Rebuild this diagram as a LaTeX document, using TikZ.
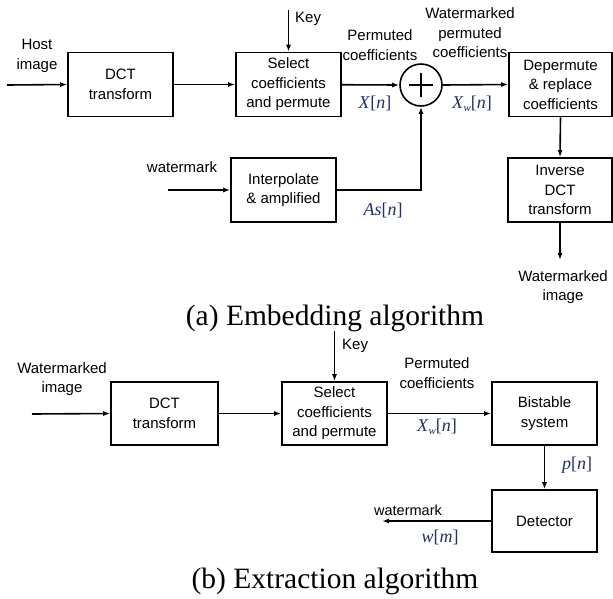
\documentclass[tikz,border=0pt]{standalone}
\usepackage{fontspec}
\setmainfont{Liberation Serif}
\setsansfont{Liberation Sans}
\usetikzlibrary{arrows.meta,calc}
\definecolor{mathc}{RGB}{35,45,115}
\newcommand{\lblfont}{\sffamily\fontsize{15}{19.5}\selectfont}
\newcommand{\mv}[1]{\textit{#1}}
\begin{document}
\begin{tikzpicture}[x=1pt,y=-1pt,
  blk/.style={draw, line width=1.6pt, minimum width=105pt, minimum height=64pt, align=center, font=\lblfont, inner sep=0pt},
  lbl/.style={align=center, font=\lblfont, inner sep=0pt},
  mlbl/.style={text=mathc, font=\fontsize{18}{20}\selectfont, inner sep=0pt},
  captext/.style={font=\fontsize{29.5}{32}\selectfont, inner sep=0pt},
  arr/.style={-{Latex[length=7pt,width=5pt]}, line width=1.6pt},
  ln/.style={line width=1.6pt}]
\useasboundingbox (0,0) rectangle (613,598);
% ---------- (a) Embedding ----------
\node[blk] (dct1) at (120.5,84.5) {DCT\\transform};
\node[blk] (sel1) at (288.5,84.5) {Select\\coefficients\\and permute};
\node[draw, circle, line width=1.6pt, minimum size=42pt, inner sep=0pt] (sum) at (421,85) {};
\draw[line width=1.2pt] ($(sum.center)+(-12,0)$) -- ($(sum.center)+(12,0)$);
\draw[line width=1.2pt] ($(sum.center)+(0,-12)$) -- ($(sum.center)+(0,12)$);
\node[blk, minimum width=103pt] (dep) at (560.5,84.5) {Depermute\\\& replace\\coefficients};
\node[blk, minimum width=104pt] (inv) at (560,190) {Inverse\\DCT\\transform};
\node[blk] (intp) at (283.5,190) {Interpolate\\\& amplified};
\coordinate (hostin) at (7,85);
\coordinate (key1) at (288.5,10);
\coordinate (wmin) at (168,190);
\coordinate (wmout) at (560,260);
\draw[arr] (hostin) -- (dct1.west);
\draw[arr] (dct1) -- (sel1);
\draw[arr] (key1) -- (sel1.north);
\draw[arr] (sel1) -- (sum.west);
\draw[arr] (sum.east) -- (dep.west);
\draw[arr] (dep.south) -- (inv.north);
\draw[arr] (inv.south) -- (wmout);
\draw[arr] (wmin) -- (intp.west);
\draw[arr] (intp.east) -| (sum.south);
\node[lbl] (thost) at (37,56) {Host\\image};
\node[lbl, anchor=west] (tkey1) at (295,19) {Key};
\node[lbl] (tperm1) at (380,45) {Permuted\\coefficients};
\node[lbl] (twpc) at (470,33) {Watermarked\\permuted\\coefficients};
\node[mlbl] (tx) at (375,103) {\mv{X}[\mv{n}]};
\node[mlbl] (txw) at (472,104) {\mv{X}\raisebox{-3pt}{\fontsize{11}{11}\selectfont\mv{w}}[\mv{n}]};
\node[lbl] (twm1) at (182,167) {watermark};
\node[mlbl] (tas) at (383,210) {\mv{As}[\mv{n}]};
\node[lbl] (twmi) at (563,287) {Watermarked\\image};
\node[captext] (capa) at (335,318) {(a) Embedding algorithm};
% ---------- (b) Extraction ----------
\node[blk, minimum width=107pt, minimum height=63pt] (dct2) at (164.5,413.5) {DCT\\transform};
\node[blk, minimum height=63pt] (sel2) at (334.5,413.5) {Select\\coefficients\\and permute};
\node[blk, minimum height=63pt] (bis) at (544.5,413.5) {Bistable\\system};
\node[blk, minimum height=62pt] (det) at (544.5,521) {Detector};
\coordinate (wm2in) at (32,414);
\coordinate (key2) at (334.5,331);
\coordinate (wm2out) at (382,521);
\draw[arr] (wm2in) -- (dct2.west);
\draw[arr] (dct2) -- (sel2);
\draw[arr] (key2) -- (sel2.north);
\draw[arr] (sel2) -- (bis);
\draw[arr] (bis.south) -- (det.north);
\draw[arr] (det.west) -- (wm2out);
\node[lbl] (twmi2) at (62,379) {Watermarked\\image};
\node[lbl, anchor=west] (tkey2) at (342,346) {Key};
\node[lbl] (tperm2) at (437,373) {Permuted\\coefficients};
\node[mlbl] (txw2) at (437,427) {\mv{X}\raisebox{-3pt}{\fontsize{11}{11}\selectfont\mv{w}}[\mv{n}]};
\node[mlbl] (tp) at (577,465) {\mv{p}[\mv{n}]};
\node[lbl, font=\sffamily\fontsize{14.5}{18}\selectfont] (twm2) at (408,510) {watermark};
\node[mlbl] (tw) at (440,537) {\mv{w}[\mv{m}]};
\node[captext] (capb) at (335,581) {(b) Extraction algorithm};
\end{tikzpicture}
\end{document}
